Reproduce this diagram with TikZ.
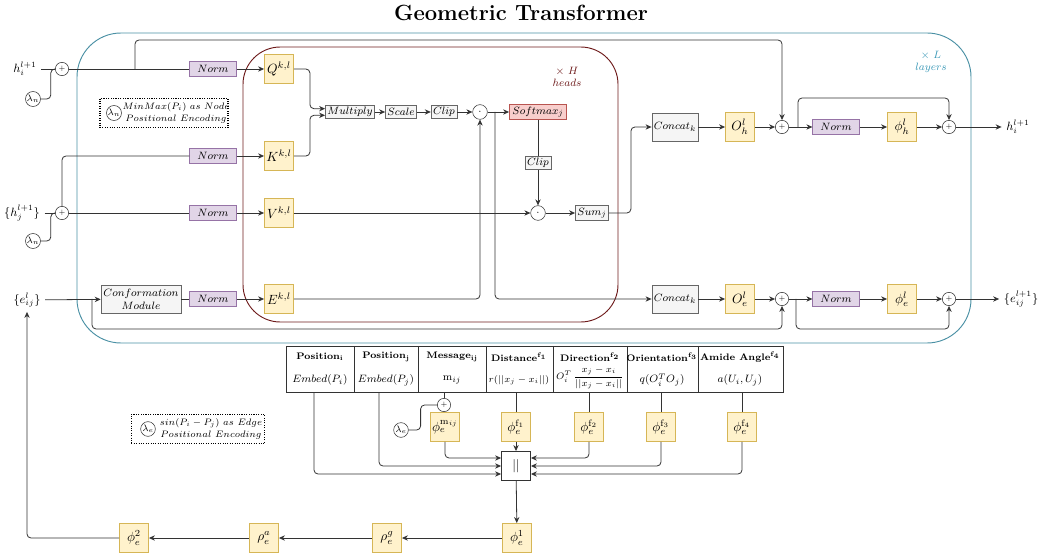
\documentclass[tikz,border=0pt]{standalone}
\usepackage{amsmath,amssymb}
\usepackage{tikz}
\usepackage{xcolor}
\usetikzlibrary{positioning, arrows.meta, calc}

\definecolor{yelfill}{HTML}{FFF2CC}
\definecolor{yelline}{HTML}{D6B656}
\definecolor{purfill}{HTML}{E1D5E7}
\definecolor{purline}{HTML}{9673A6}
\definecolor{gryfill}{HTML}{F5F5F5}
\definecolor{gryline}{HTML}{666666}
\definecolor{redfill}{HTML}{F8CECC}
\definecolor{redline}{HTML}{B85450}
\definecolor{layerteal}{HTML}{4A90A4}
\definecolor{layertext}{HTML}{3E9AB8}
\definecolor{headred}{HTML}{6E1B1B}
\definecolor{wiregray}{HTML}{333333}

\begin{document}
\begin{tikzpicture}[
  x=0.75pt, y=-0.75pt,
  >={Stealth[length=4.5pt,width=4pt]},
  every node/.style={font=\footnotesize},
  wire/.style={draw=wiregray, line width=0.6pt, rounded corners=3pt},
  arr/.style={wire, ->},
  yel/.style={draw=yelline, fill=yelfill, minimum width=22pt, minimum height=22pt, inner sep=1pt, font=\normalsize},
  normbox/.style={draw=purline, fill=purfill, minimum width=35pt, minimum height=11pt, inner sep=1pt},
  opbox/.style={draw=gryline, fill=gryfill, minimum height=10pt, inner sep=1.5pt},
  catbox/.style={opbox, minimum width=32pt, minimum height=21pt},
  softbox/.style={draw=redline, fill=redfill, minimum width=43pt, minimum height=11pt, inner sep=1pt},
  oplus/.style={circle, draw=wiregray, fill=white, minimum size=10pt, inner sep=0pt, font=\tiny},
  odotc/.style={circle, draw=wiregray, fill=white, minimum size=11pt, inner sep=0pt},
  lam/.style={circle, draw=wiregray, fill=white, minimum size=11pt, inner sep=0pt, font=\scriptsize},
  penc/.style={draw, densely dotted, thick, minimum height=22pt},
  head/.style={font=\fontsize{7.1}{9}\selectfont\bfseries, inner sep=1pt}
]
\useasboundingbox (0,0) rectangle (1038,559);

% Title
\node[font=\fontsize{16.5}{19}\selectfont\bfseries] (title) at (521,13) {Geometric Transformer};

% Layer and head frames
\draw[layerteal, line width=0.7pt, rounded corners=33pt] (77,33) rectangle (971,343);
\node[layertext, align=center] (layers) at (931,62) {$\times\ L$\\$layers$};
\draw[headred, line width=0.7pt, rounded corners=28pt] (243,47) rectangle (618,322);
\node[headred, align=center] (heads) at (567,77) {$\times\ H$\\$heads$};

% Node input h_i
\node[font=\small] (hin) at (25,69) {$h_i^{l+1}$};
\node[oplus] (pI) at (62,69) {+};
\node[lam] (lamI) at (33,99) {$\lambda_n$};
\draw[wire] (hin) -- (pI);
\draw[wire] (lamI.east) -- ++(10,0) |- (pI.west);
\node[normbox] (nQ) at (213,69) {$Norm$};
\node[yel] (Q) at (279,69) {$Q^{k,l}$};
\draw[wire] (pI) -- (nQ);
\draw[arr] (nQ) -- (Q);

% Node positional encoding note
\node[penc, minimum width=96pt] (pencN) at (164,113) {};
\node[lam] (lamN) at (114,113) {$\lambda_n$};
\node[font=\fontsize{6.7}{8}\selectfont, align=center, inner sep=0pt] (pencNt) at (176,113) {$MinMax(P_i)\ as\ Node$\\[1pt]$Positional\ Encoding$};

% Neighbour input h_j
\node[font=\small] (hjin) at (22,213) {$\{h_j^{l+1}\}$};
\node[oplus] (pJ) at (62,213) {+};
\node[lam] (lamJ) at (33,241) {$\lambda_n$};
\draw[wire] (hjin) -- (pJ);
\draw[wire] (lamJ.east) -- ++(10,0) |- (pJ.west);
\node[normbox] (nK) at (213,156) {$Norm$};
\node[yel] (K) at (279,156) {$K^{k,l}$};
\node[normbox] (nV) at (213,213) {$Norm$};
\node[yel] (V) at (279,213) {$V^{k,l}$};
\draw[wire] (pJ.north) |- (nK.west);
\draw[arr] (nK) -- (K);
\draw[wire] (pJ) -- (nV);
\draw[arr] (nV) -- (V);

% Edge input e_ij
\node[font=\small] (ein) at (27,300) {$\{e_{ij}^{l}\}$};
\node[opbox, minimum width=60pt, minimum height=21pt, align=center] (conf) at (141,299) {$Conformation$\\$Module$};
\node[normbox] (nE) at (213,299) {$Norm$};
\node[yel] (E) at (279,299) {$E^{k,l}$};
\draw[arr] (ein) -- (conf);
\draw[wire] (conf) -- (nE);
\draw[arr] (nE) -- (E);

% Attention head
\node[opbox] (mul) at (350,112) {$Multiply$};
\node[opbox] (scl) at (401,112) {$Scale$};
\node[opbox] (clpA) at (444,112) {$Clip$};
\node[odotc] (dA) at (480,112) {$\cdot$};
\node[softbox] (smx) at (538,112) {$Softmax_j$};
\node[opbox] (clpB) at (538,163) {$Clip$};
\node[odotc] (dB) at (538,213) {$\cdot$};
\node[opbox] (sumj) at (592,213) {$Sum_j$};
\draw[arr] (Q.east) -- ++(16,0) |- ([yshift=2.5pt]mul.west);
\draw[arr] (K.east) -- ++(16,0) |- ([yshift=-2.5pt]mul.west);
\draw[arr] (mul) -- (scl);
\draw[arr] (scl) -- (clpA);
\draw[arr] (clpA) -- (dA);
\draw[arr] (dA) -- (smx);
\draw[arr] (E.east) -| (dA.south);
\draw[wire] (smx) -- (clpB);
\draw[arr] (clpB) -- (dB);
\draw[arr] (V) -- (dB);
\draw[arr] (dB) -- (sumj);

% Node output branch
\node[catbox] (catH) at (675,127) {$Concat_k$};
\node[yel] (Oh) at (740,127) {$O_h^l$};
\node[oplus] (pH1) at (782,127) {+};
\node[normbox] (nH) at (836,127) {$Norm$};
\node[yel] (phH) at (902,127) {$\phi_h^l$};
\node[oplus] (pH2) at (949,127) {+};
\node[font=\small] (hout) at (1018,127) {$h_i^{l+1}$};
\draw[arr] (sumj.east) -- ++(22,0) |- (catH.west);
\draw[arr] (catH) -- (Oh);
\draw[arr] (Oh) -- (pH1);
\draw[arr] (pH1) -- (nH);
\draw[arr] (nH) -- (phH);
\draw[arr] (phH) -- (pH2);
\draw[arr] (pH2) -- (hout);
\coordinate (tap1) at (135,69);
\draw[arr] (tap1) -- ++(0,-29) -| (pH1.north);
\coordinate (tap4) at (798,127);
\draw[arr] (tap4) -- ++(0,-29) -| (pH2.north);

% Edge output branch
\node[catbox] (catE) at (675,299) {$Concat_k$};
\node[yel] (Oe) at (740,299) {$O_e^l$};
\node[oplus] (pE1) at (782,299) {+};
\node[normbox] (nEo) at (836,299) {$Norm$};
\node[yel] (phE) at (902,299) {$\phi_e^l$};
\node[oplus] (pE2) at (949,299) {+};
\node[font=\small] (eout) at (1021,299) {$\{e_{ij}^{l+1}\}$};
\coordinate (tap2) at (495,112);
\draw[arr] (tap2) |- (catE.west);
\draw[arr] (catE) -- (Oe);
\draw[arr] (Oe) -- (pE1);
\draw[arr] (pE1) -- (nEo);
\draw[arr] (nEo) -- (phE);
\draw[arr] (phE) -- (pE2);
\draw[arr] (pE2) -- (eout);
\coordinate (tap3) at (92,299);
\draw[arr] (tap3) -- ++(0,30) -| (pE1.south);
\coordinate (tap5) at (796,299);
\draw[arr] (tap5) -- ++(0,30) -| (pE2.south);

% Edge feature table
\draw[wiregray, line width=0.6pt] (286,346) rectangle (783,392);
\foreach \xx in {354,418,486,553,627,698}
  \draw[wiregray, line width=0.6pt] (\xx,346) -- (\xx,392);
\node[head] (hd1) at (320,357) {Position$_{\mathbf{i}}$};
\node[head] (hd2) at (386,357) {Position$_{\mathbf{j}}$};
\node[head] (hd3) at (452,357) {Message$_{\mathbf{ij}}$};
\node[head] (hd4) at (519,357) {Distance$^{\mathbf{f_1}}$};
\node[head] (hd5) at (590,357) {Direction$^{\mathbf{f_2}}$};
\node[head] (hd6) at (662,357) {Orientation$^{\mathbf{f_3}}$};
\node[head] (hd7) at (740,357) {Amide Angle$^{\mathbf{f_4}}$};
\node[inner sep=1pt] (fm1) at (320,380) {$Embed(P_i)$};
\node[inner sep=1pt] (fm2) at (386,380) {$Embed(P_j)$};
\node[inner sep=1pt] (fm3) at (452,380) {$\mathrm{m}_{ij}$};
\node[inner sep=1pt, font=\fontsize{7.4}{9}\selectfont] (fm4) at (519,380) {$r(||x_j-x_i||)$};
\node[inner sep=0pt, font=\scriptsize] (fm5) at (590,378) {$O_i^T\,\dfrac{x_j-x_i}{||x_j-x_i||}$};
\node[inner sep=1pt] (fm6) at (662,380) {$q(O_i^TO_j)$};
\node[inner sep=1pt] (fm7) at (740,380) {$a(U_i,U_j)$};
\coordinate (c1) at (314,392);
\coordinate (c2) at (379,392);
\coordinate (c3) at (444,392);
\coordinate (c4) at (516,392);
\coordinate (c5) at (589,392);
\coordinate (c6) at (661,392);
\coordinate (c7) at (742,392);

% Edge positional encoding note
\node[penc, minimum width=100pt] (pencE) at (198,429) {};
\node[lam] (lamEn) at (148,429) {$\lambda_e$};
\node[font=\scriptsize, align=center, inner sep=0pt] (pencEt) at (211,429) {$sin(P_i-P_j)\ as\ Edge$\\[1pt]$Positional\ Encoding$};

% Edge feature embeddings
\node[oplus] (pM) at (444,405) {+};
\node[lam] (lamE) at (401,430) {$\lambda_e$};
\node[yel] (phM) at (445,427) {$\phi_e^{\mathrm{m}_{ij}}$};
\node[yel] (ph1) at (516,427) {$\phi_e^{\mathrm{f}_1}$};
\node[yel] (ph2) at (589,427) {$\phi_e^{\mathrm{f}_2}$};
\node[yel] (ph3) at (661,427) {$\phi_e^{\mathrm{f}_3}$};
\node[yel] (ph4) at (742,427) {$\phi_e^{\mathrm{f}_4}$};
\node[draw=wiregray, fill=white, minimum width=22pt, minimum height=22pt, font=\normalsize] (cat) at (516,466) {$||$};
\draw[wire] (c3) -- (pM);
\draw[wire] (lamE.east) -- ++(12,0) |- (pM.west);
\draw[wire] (c4) -- (ph1);
\draw[wire] (c5) -- (ph2);
\draw[wire] (c6) -- (ph3);
\draw[wire] (c7) -- (ph4);
\draw[arr] (ph1) -- (cat);
\draw[arr] (phM.south) |- ([yshift=6pt]cat.west);
\draw[arr] (c2) |- (cat.west);
\draw[arr] (c1) |- ([yshift=-6pt]cat.west);
\draw[arr] (ph2.south) |- ([yshift=6pt]cat.east);
\draw[arr] (ph3.south) |- (cat.east);
\draw[arr] (ph4.south) |- ([yshift=-6pt]cat.east);

% Conformation chain back to the edge input
\node[yel] (phA) at (517,538) {$\phi_e^1$};
\node[yel] (rhoG) at (387,538) {$\rho_e^g$};
\node[yel] (rhoA) at (264,538) {$\rho_e^a$};
\node[yel] (phB) at (134,538) {$\phi_e^2$};
\draw[arr] (cat) -- (phA);
\draw[arr] (phA) -- (rhoG);
\draw[arr] (rhoG) -- (rhoA);
\draw[arr] (rhoA) -- (phB);
\draw[arr] (phB.west) -| (ein.south);

\end{tikzpicture}
\end{document}
